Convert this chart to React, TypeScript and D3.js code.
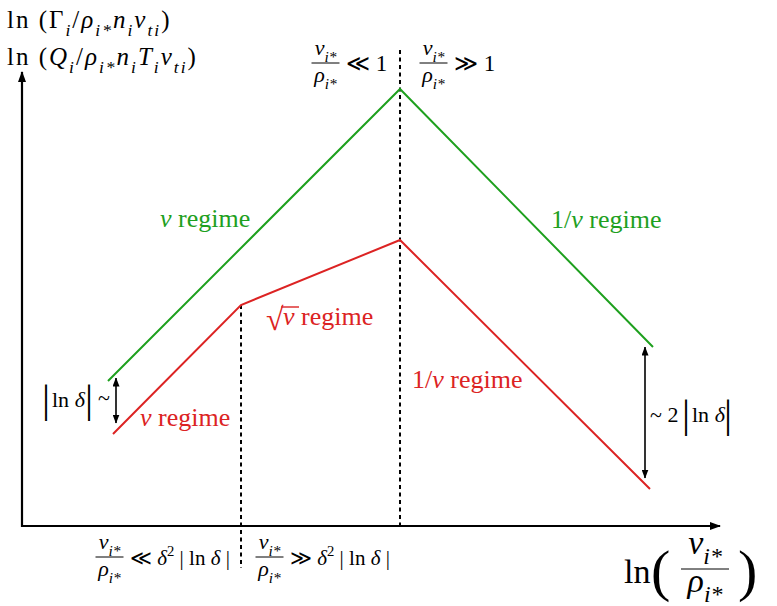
import React from "react";
import * as d3 from "d3";

const W = 777;
const H = 606;

// Horizontal axis: ln(ν*/ρ*), zero at the ν*/ρ* = 1 boundary
const lnNuDomain = [-7.56, 6.4];
// Vertical axis: normalised log flux
const lnFluxDomain = [0, 9.08];

// Upper (green) flux curve
const greenNu = [-5.84, 0, 5.06];
const greenFlux = [2.9, 8.74, 3.58];

// Lower (red) flux curve
const redNu = [-5.74, -3.18, 0, 5.0];
const redFlux = [1.84, 4.42, 5.72, 0.74];

// Dashed regime boundaries
const boundaryNu = [0, -3.18];
const boundaryTop = [9.52, 4.42];
const boundaryBottom = [-0.04, -0.84];

// Double-headed gap markers
const gapNu = [-5.68, 4.9];
const gapTop = [2.96, 3.58];
const gapBottom = [2.06, 0.96];

const GREEN = "#1ea01e";
const RED = "#dc2323";
const FONT = "'Liberation Serif', 'Times New Roman', serif";

type Seg = { t: string; it?: boolean; sub?: boolean; sup?: boolean };

function MathText({
  x,
  y,
  size,
  segs,
  fill = "#000",
  anchor = "start",
  spacing = 0,
}: {
  x: number;
  y: number;
  size: number;
  segs: Seg[];
  fill?: string;
  anchor?: string;
  spacing?: number;
}) {
  let shift = 0;
  return (
    <text
      x={x}
      y={y}
      fontSize={size}
      fontFamily={FONT}
      fill={fill}
      textAnchor={anchor}
      letterSpacing={spacing}
    >
      {segs.map((s, i) => {
        const target = s.sub ? 0.3 * size : s.sup ? -0.42 * size : 0;
        const dy = target - shift;
        shift = target;
        return (
          <tspan
            key={i}
            dy={dy}
            fontSize={s.sub || s.sup ? size * 0.7 : size}
            fontStyle={s.it ? "italic" : "normal"}
          >
            {s.t}
          </tspan>
        );
      })}
    </text>
  );
}

const nuStar: Seg[] = [
  { t: "ν", it: true },
  { t: "i*", it: true, sub: true },
];
const rhoStar: Seg[] = [
  { t: "ρ", it: true },
  { t: "i*", it: true, sub: true },
];

function Frac({
  cx,
  y,
  size,
  half,
  gapUp,
  gapDown,
}: {
  cx: number;
  y: number;
  size: number;
  half: number;
  gapUp: number;
  gapDown: number;
}) {
  return (
    <g>
      <MathText x={cx} y={y - gapUp} size={size} segs={nuStar} anchor="middle" />
      <line x1={cx - half} x2={cx + half} y1={y} y2={y} stroke="#000" strokeWidth={1} />
      <MathText x={cx} y={y + gapDown} size={size} segs={rhoStar} anchor="middle" />
    </g>
  );
}

export default function App() {
  const x = d3.scaleLinear().domain(lnNuDomain).range([22, 720]);
  const y = d3.scaleLinear().domain(lnFluxDomain).range([526, 72]);

  const line = d3
    .line<[number, number]>()
    .x((d) => x(d[0]))
    .y((d) => y(d[1]));

  const green = line(greenNu.map((v, i) => [v, greenFlux[i]] as [number, number]));
  const red = line(redNu.map((v, i) => [v, redFlux[i]] as [number, number]));

  const axisPath = `M${x(lnNuDomain[0])},${y(lnFluxDomain[1])}L${x(lnNuDomain[0])},${y(
    lnFluxDomain[0]
  )}L${x(lnNuDomain[1])},${y(lnFluxDomain[0])}`;

  const lnDelta: Seg[] = [{ t: "ln " }, { t: "δ", it: true }];

  return (
    <div style={{ position: "absolute", left: 0, top: 0 }}>
      <svg width={W} height={H} viewBox={`0 0 ${W} ${H}`} style={{ display: "block", background: "#fff" }}>
        <defs>
          <marker
            id="axisHead"
            viewBox="0 0 11 8"
            refX={10}
            refY={4}
            markerWidth={11}
            markerHeight={8}
            markerUnits="userSpaceOnUse"
            orient="auto-start-reverse"
          >
            <path d="M0,0L11,4L0,8z" fill="#000" />
          </marker>
          <marker
            id="gapHead"
            viewBox="0 0 9 7"
            refX={8.5}
            refY={3.5}
            markerWidth={9}
            markerHeight={7}
            markerUnits="userSpaceOnUse"
            orient="auto-start-reverse"
          >
            <path d="M0,0L9,3.5L0,7z" fill="#000" />
          </marker>
        </defs>

        {/* axes */}
        <path
          d={axisPath}
          fill="none"
          stroke="#000"
          strokeWidth={2.2}
          markerStart="url(#axisHead)"
          markerEnd="url(#axisHead)"
        />

        {/* regime boundaries */}
        {boundaryNu.map((v, i) => (
          <line
            key={i}
            x1={x(v)}
            x2={x(v)}
            y1={y(boundaryTop[i])}
            y2={y(boundaryBottom[i])}
            stroke="#000"
            strokeWidth={2}
            strokeDasharray="4,3.5"
          />
        ))}

        {/* flux curves */}
        <path d={green ?? ""} fill="none" stroke={GREEN} strokeWidth={2} />
        <path d={red ?? ""} fill="none" stroke={RED} strokeWidth={2} />

        {/* gap markers */}
        {gapNu.map((v, i) => (
          <line
            key={i}
            x1={x(v)}
            x2={x(v)}
            y1={y(gapTop[i])}
            y2={y(gapBottom[i])}
            stroke="#000"
            strokeWidth={1.6}
            markerStart="url(#gapHead)"
            markerEnd="url(#gapHead)"
          />
        ))}

        {/* vertical axis title */}
        <MathText
          x={7}
          y={28}
          size={25}
          spacing={2}
          segs={[
            { t: "ln (" },
            { t: "Γ" },
            { t: "i", it: true, sub: true },
            { t: "/" },
            { t: "ρ", it: true },
            { t: "i*", it: true, sub: true },
            { t: "n", it: true },
            { t: "i", it: true, sub: true },
            { t: "v", it: true },
            { t: "ti", it: true, sub: true },
            { t: ")" },
          ]}
        />
        <MathText
          x={7}
          y={65}
          size={25}
          spacing={2}
          segs={[
            { t: "ln (" },
            { t: "Q", it: true },
            { t: "i", it: true, sub: true },
            { t: "/" },
            { t: "ρ", it: true },
            { t: "i*", it: true, sub: true },
            { t: "n", it: true },
            { t: "i", it: true, sub: true },
            { t: "T", it: true },
            { t: "i", it: true, sub: true },
            { t: "v", it: true },
            { t: "ti", it: true, sub: true },
            { t: ")" },
          ]}
        />

        {/* top regime conditions */}
        <Frac cx={325.5} y={63} size={22} half={14} gapUp={8} gapDown={19} />
        <text x={346} y={71} fontSize={23} fontFamily={FONT}>
          ≪ 1
        </text>
        <Frac cx={433.5} y={63} size={22} half={14} gapUp={8} gapDown={19} />
        <text x={454} y={71} fontSize={23} fontFamily={FONT}>
          ≫ 1
        </text>

        {/* bottom regime conditions */}
        <Frac cx={109.5} y={557} size={22} half={14} gapUp={8} gapDown={19} />
        <MathText
          x={130}
          y={565}
          size={21}
          segs={[{ t: "≪ " }, { t: "δ", it: true }, { t: "2", sup: true }, { t: " | ln " }, { t: "δ", it: true }, { t: " |" }]}
        />
        <Frac cx={269.5} y={557} size={22} half={14} gapUp={8} gapDown={19} />
        <MathText
          x={290}
          y={565}
          size={21}
          segs={[{ t: "≫ " }, { t: "δ", it: true }, { t: "2", sup: true }, { t: " | ln " }, { t: "δ", it: true }, { t: " |" }]}
        />

        {/* horizontal axis title */}
        <text x={624} y={583} fontSize={34} fontFamily={FONT}>
          ln
        </text>
        <text x={651} y={590} fontSize={58} fontFamily={FONT}>
          (
        </text>
        <Frac cx={705} y={569} size={34} half={24} gapUp={15} gapDown={23} />
        <text x={738} y={590} fontSize={58} fontFamily={FONT}>
          )
        </text>

        {/* green regime labels */}
        <MathText
          x={160}
          y={227}
          size={26}
          fill={GREEN}
          segs={[{ t: "ν", it: true }, { t: " regime" }]}
        />
        <MathText
          x={551}
          y={228}
          size={26}
          fill={GREEN}
          segs={[{ t: "1/" }, { t: "ν", it: true }, { t: " regime" }]}
        />

        {/* red regime labels */}
        <text x={266} y={330} fontSize={32} fontFamily={FONT} fill={RED}>
          √
        </text>
        <line x1={281} x2={299} y1={307} y2={307} stroke={RED} strokeWidth={1.4} />
        <MathText
          x={283}
          y={325}
          size={26}
          fill={RED}
          segs={[{ t: "ν", it: true }, { t: " regime" }]}
        />
        <MathText
          x={140}
          y={426}
          size={26}
          fill={RED}
          segs={[{ t: "ν", it: true }, { t: " regime" }]}
        />
        <MathText
          x={412}
          y={388}
          size={26}
          fill={RED}
          segs={[{ t: "1/" }, { t: "ν", it: true }, { t: " regime" }]}
        />

        {/* gap annotations */}
        <text x={42} y={412} fontSize={40} fontFamily={FONT}>
          |
        </text>
        <MathText x={52} y={407} size={22} segs={lnDelta} />
        <text x={85} y={412} fontSize={40} fontFamily={FONT}>
          |
        </text>
        <text x={98} y={405} fontSize={22} fontFamily={FONT}>
          ~
        </text>

        <text x={650} y={422} fontSize={22} fontFamily={FONT}>
          ~ 2
        </text>
        <text x={682} y={427} fontSize={40} fontFamily={FONT}>
          |
        </text>
        <MathText x={692} y={422} size={22} segs={lnDelta} />
        <text x={724} y={427} fontSize={40} fontFamily={FONT}>
          |
        </text>
      </svg>
    </div>
  );
}
